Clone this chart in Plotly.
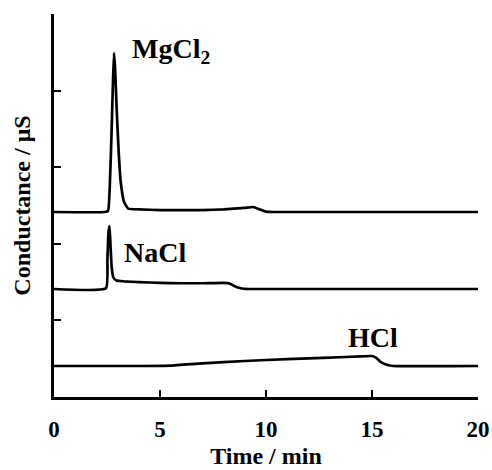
import plotly.graph_objects as go

# MgCl2 trace
mg_x = [0, 2.4, 2.55, 2.65, 2.72, 2.78, 2.83, 2.88, 2.95, 3.05, 3.15, 3.3, 3.5, 4, 5, 6, 7, 8, 9, 9.4, 9.7, 10, 10.4, 11, 15, 20]
mg_y = [2.415, 2.415, 2.43, 2.9, 3.5, 4.1, 4.49, 4.3, 3.8, 3.2, 2.8, 2.55, 2.46, 2.45, 2.44, 2.44, 2.44, 2.45, 2.47, 2.48, 2.45, 2.42, 2.415, 2.415, 2.415, 2.415]

# NaCl trace
na_x = [0, 2.45, 2.52, 2.57, 2.62, 2.67, 2.72, 2.8, 2.95, 3.3, 4, 5, 6, 7, 8, 8.25, 8.5, 8.8, 9.2, 20]
na_y = [1.41, 1.42, 1.8, 2.15, 2.23, 1.95, 1.7, 1.56, 1.52, 1.51, 1.5, 1.49, 1.485, 1.485, 1.49, 1.485, 1.45, 1.42, 1.41, 1.41]

# HCl trace
hcl_x = [0, 4, 5.5, 7, 9, 11, 13, 14.5, 15.0, 15.2, 15.4, 15.7, 16, 20]
hcl_y = [0.405, 0.405, 0.41, 0.44, 0.47, 0.495, 0.515, 0.53, 0.535, 0.51, 0.46, 0.42, 0.405, 0.405]

labels = ["MgCl<sub>2</sub>", "NaCl", "HCl"]
label_x = [3.6, 3.2, 13.75]
label_y = [4.53, 1.89, 0.78]

x_ticks = [0, 5, 10, 15, 20]
y_ticks = [0, 1, 2, 3, 4, 5]

FONT = "Liberation Serif, Times New Roman, serif"

fig = go.Figure()
for xs, ys in [(mg_x, mg_y), (na_x, na_y), (hcl_x, hcl_y)]:
    fig.add_trace(go.Scatter(x=xs, y=ys, mode="lines",
                             line=dict(color="black", width=2.7, shape="spline", smoothing=0.4),
                             showlegend=False, hoverinfo="skip"))

for t, lx, ly in zip(labels, label_x, label_y):
    fig.add_annotation(x=lx, y=ly, text="<b>" + t + "</b>", showarrow=False,
                       xanchor="left", yanchor="middle",
                       font=dict(family=FONT, size=28, color="black"))

fig.update_layout(
    width=492, height=470,
    margin=dict(l=54, r=14, t=14, b=73),
    paper_bgcolor="white", plot_bgcolor="white",
    font=dict(family=FONT, color="black"),
)
fig.update_xaxes(range=[0, 20], tickvals=x_ticks, ticktext=["<b>%d</b>" % v for v in x_ticks],
                 showgrid=False, zeroline=False, showline=True, linecolor="black", linewidth=2.5,
                 ticks="inside", ticklen=7, tickwidth=2, tickcolor="black", automargin=False,
                 ticklabelstandoff=10,
                 tickfont=dict(family=FONT, size=23, color="black"),
                 title=dict(text="<b>Time / min</b>", font=dict(family=FONT, size=24, color="black"), standoff=6))
fig.update_yaxes(range=[0, 5], tickvals=y_ticks, showticklabels=False,
                 showgrid=False, zeroline=False, showline=True, linecolor="black", linewidth=2.5,
                 ticks="inside", ticklen=7, tickwidth=2, tickcolor="black", automargin=False,
                 title=dict(text="<b>Conductance / μS</b>", font=dict(family=FONT, size=24, color="black"), standoff=14))

fig.write_html("out.html", config={"displayModeBar": False},
               post_script="document.body.style.margin='0px';")
